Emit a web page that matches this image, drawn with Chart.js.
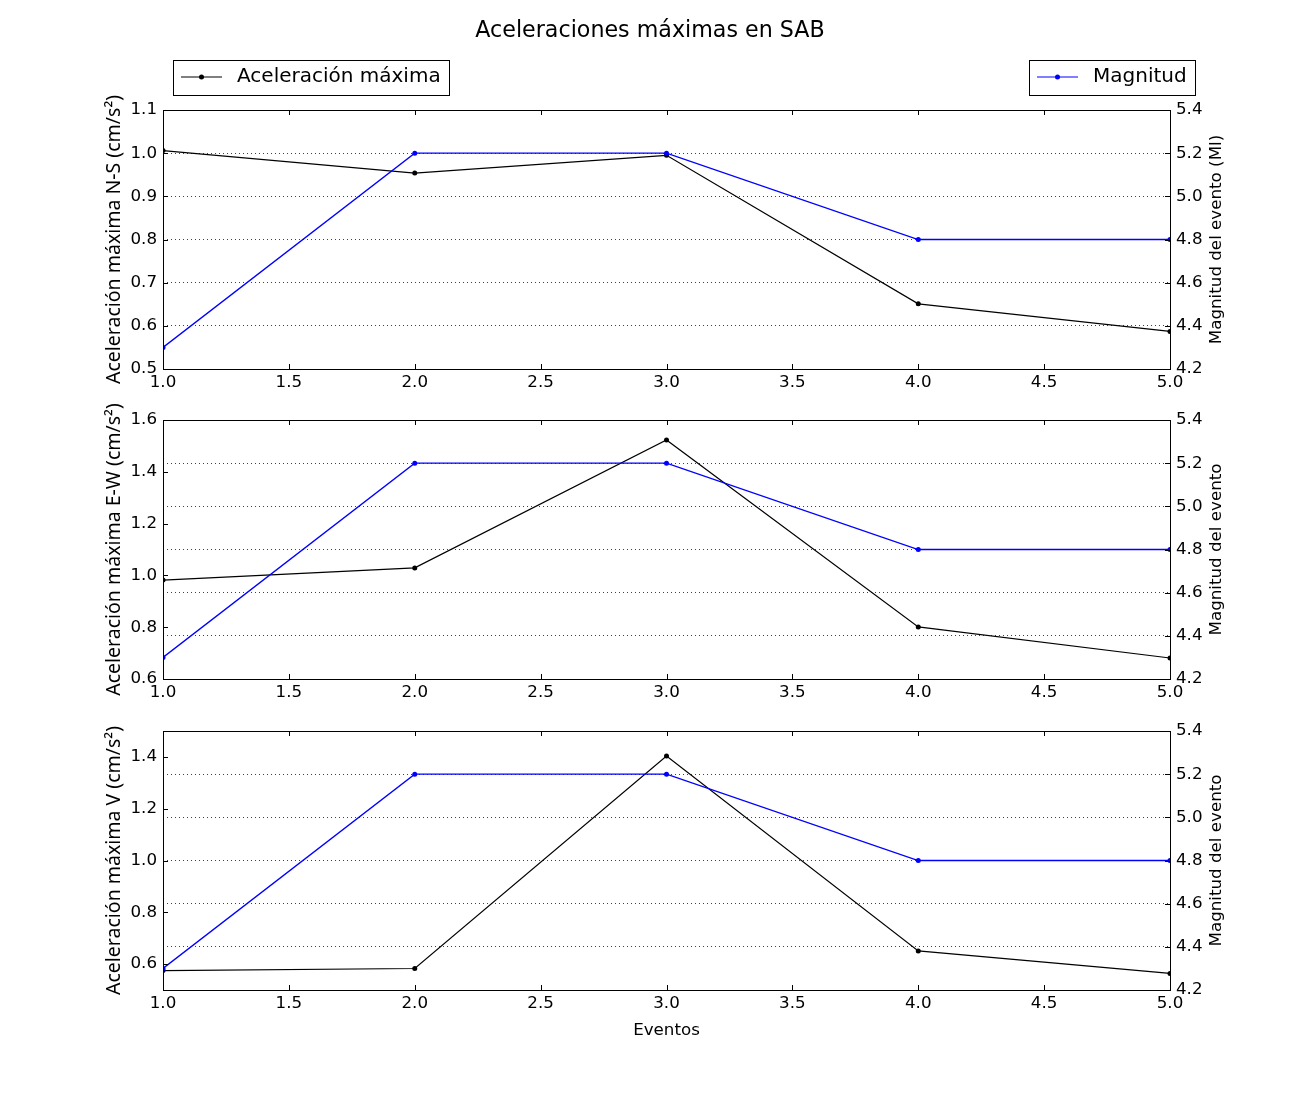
<!DOCTYPE html>
<html>
<head>
<meta charset="utf-8">
<script src="https://cdn.jsdelivr.net/npm/chart.js@4.4.1/dist/chart.umd.min.js"></script>
<style>
  body { margin: 0; background: #fff; }
  canvas { position: absolute; left: 0; }
</style>
</head>
<body>
<canvas id="c1" width="1300" height="400" style="top:0px"></canvas>
<canvas id="c2" width="1300" height="310" style="top:400px"></canvas>
<canvas id="c3" width="1300" height="390" style="top:710px"></canvas>
<script>
// Data
const eventos = [1, 2, 3, 4, 5];
const magnitud = [4.3, 5.2, 5.2, 4.8, 4.8];
const accNS = [1.006, 0.954, 0.995, 0.651, 0.587];
const accEW = [0.982, 1.029, 1.523, 0.801, 0.681];
const accV = [0.575, 0.583, 1.403, 0.651, 0.564];

// Tick labels
const xTicks = [1.0, 1.5, 2.0, 2.5, 3.0, 3.5, 4.0, 4.5, 5.0];
const magTicks = [4.2, 4.4, 4.6, 4.8, 5.0, 5.2, 5.4];
const nsTicks = [0.5, 0.6, 0.7, 0.8, 0.9, 1.0, 1.1];
const ewTicks = [0.6, 0.8, 1.0, 1.2, 1.4, 1.6];
const vTicks = [0.6, 0.8, 1.0, 1.2, 1.4];

const FONT = 'DejaVu Sans';
const tickFont = { family: FONT, size: 16.7 };
const accTitleFont = { family: 'Noto Sans', size: 19.5 };

// frame around the plot, inward ticks, and the right-hand title (reads bottom to top)
const frameTicks = {
    id: 'frameTicks',
    afterDatasetsDraw(chart) {
        const { ctx, chartArea: a, scales } = chart;
        ctx.save();
        ctx.strokeStyle = '#000';
        ctx.lineWidth = 1;
        ctx.beginPath();
        scales.x.ticks.forEach(t => {
            const px = Math.round(scales.x.getPixelForValue(t.value)) + 0.5;
            ctx.moveTo(px, a.bottom); ctx.lineTo(px, a.bottom - 5);
            ctx.moveTo(px, a.top); ctx.lineTo(px, a.top + 5);
        });
        scales.y.ticks.forEach(t => {
            const py = Math.round(scales.y.getPixelForValue(t.value)) + 0.5;
            ctx.moveTo(a.left, py); ctx.lineTo(a.left + 5, py);
        });
        scales.y1.ticks.forEach(t => {
            const py = Math.round(scales.y1.getPixelForValue(t.value)) + 0.5;
            ctx.moveTo(a.right, py); ctx.lineTo(a.right - 5, py);
        });
        ctx.stroke();
        ctx.strokeRect(Math.round(a.left) + 0.5, Math.round(a.top) + 0.5, Math.round(a.width), Math.round(a.height));

        const rt = chart.options.scales.y1.title.text;
        ctx.translate(1217, (a.top + a.bottom) / 2);
        ctx.rotate(-Math.PI / 2);
        ctx.fillStyle = '#000';
        ctx.font = tickFont.size + 'px "' + FONT + '"';
        ctx.textAlign = 'center';
        ctx.textBaseline = 'middle';
        ctx.fillText(rt, 0, 0);
        ctx.restore();
    }
};

// figure title and the two legend boxes, drawn on the first panel
const figHeader = {
    id: 'figHeader',
    afterDraw(chart) {
        const { ctx } = chart;
        ctx.save();
        ctx.fillStyle = '#000';
        ctx.font = '22.2px "' + FONT + '"';
        ctx.textAlign = 'center';
        ctx.textBaseline = 'middle';
        ctx.fillText('Aceleraciones máximas en SAB', 650, 31);

        ctx.font = '20px "' + FONT + '"';
        const boxes = [
            { ds: chart.data.datasets[1], x: 173, w: 276 },
            { ds: chart.data.datasets[0], x: 1029, w: 166 }
        ];
        boxes.forEach(b => {
            ctx.lineWidth = 1;
            ctx.strokeStyle = '#000';
            ctx.strokeRect(b.x + 0.5, 60.5, b.w, 35);
            ctx.strokeStyle = b.ds.borderColor;
            ctx.lineWidth = 1.2;
            ctx.beginPath();
            ctx.moveTo(b.x + 8, 77);
            ctx.lineTo(b.x + 49, 77);
            ctx.stroke();
            ctx.fillStyle = b.ds.borderColor;
            ctx.beginPath();
            ctx.arc(b.x + 28.5, 77, 2.5, 0, Math.PI * 2);
            ctx.fill();
            ctx.fillStyle = '#000';
            ctx.textAlign = 'left';
            ctx.fillText(b.ds.label, b.x + 64, 77);
        });
        ctx.restore();
    }
};

function makePanel(id, acc, yMin, yMax, yTicks, yTitle, magTitle, opts) {
    const ctx = document.getElementById(id).getContext('2d');
    return new Chart(ctx, {
        type: 'line',
        data: {
            datasets: [{
                label: 'Magnitud',
                data: eventos.map((e, i) => ({ x: e, y: magnitud[i] })),
                yAxisID: 'y1',
                borderColor: '#0000ff',
                backgroundColor: '#0000ff',
                borderWidth: 1.3,
                pointRadius: 2.5,
                pointBorderWidth: 0,
                order: 0
            }, {
                label: 'Aceleración máxima',
                data: eventos.map((e, i) => ({ x: e, y: acc[i] })),
                yAxisID: 'y',
                borderColor: '#000000',
                backgroundColor: '#000000',
                borderWidth: 1.2,
                pointRadius: 2.5,
                pointBorderWidth: 0,
                order: 1
            }]
        },
        options: {
            responsive: false,
            animation: false,
            layout: { padding: { top: opts.top, bottom: opts.bottom, left: 0, right: 0 } },
            plugins: {
                legend: { display: false },
                tooltip: { enabled: false }
            },
            scales: {
                x: {
                    type: 'linear',
                    min: 1, max: 5,
                    afterBuildTicks: s => { s.ticks = xTicks.map(v => ({ value: v })); },
                    afterFit: s => { s.height = opts.xHeight; },
                    grid: { display: false, drawTicks: false },
                    border: { display: false },
                    ticks: {
                        color: '#000', font: tickFont, padding: 4, maxRotation: 0, autoSkip: false,
                        callback: v => v.toFixed(1)
                    },
                    title: {
                        display: !!opts.xTitle, text: opts.xTitle || '', color: '#000',
                        font: tickFont, padding: { top: 0, bottom: opts.xTitlePad || 0 }
                    }
                },
                y: {
                    position: 'left',
                    min: yMin, max: yMax,
                    afterBuildTicks: s => { s.ticks = yTicks.map(v => ({ value: v })); },
                    afterFit: s => { s.width = 163; },
                    grid: { display: false, drawTicks: false },
                    border: { display: false },
                    ticks: { color: '#000', font: tickFont, padding: 6, callback: v => v.toFixed(1) },
                    title: {
                        display: true, text: yTitle, color: '#000', font: accTitleFont,
                        padding: { top: 103, bottom: 0 }
                    }
                },
                y1: {
                    position: 'right',
                    min: 4.2, max: 5.4,
                    afterBuildTicks: s => { s.ticks = magTicks.map(v => ({ value: v })); },
                    afterFit: s => { s.width = 130; },
                    grid: {
                        drawOnChartArea: true, drawTicks: false,
                        color: 'rgba(0,0,0,0.75)', lineWidth: 1
                    },
                    border: { display: false, dash: [1, 3] },
                    ticks: { color: '#000', font: tickFont, padding: 6, callback: v => v.toFixed(1) },
                    // drawn by frameTicks so it can read bottom to top like the reference
                    title: { display: false, text: magTitle }
                }
            }
        },
        plugins: opts.header ? [frameTicks, figHeader] : [frameTicks]
    });
}

makePanel('c1', accNS, 0.5, 1.1, nsTicks,
    'Aceleración máxima N-S (cm/s²)', 'Magnitud del evento (Ml)',
    { top: 110, bottom: 0, xHeight: 31, header: true });
makePanel('c2', accEW, 0.6, 1.6, ewTicks,
    'Aceleración máxima E-W (cm/s²)', 'Magnitud del evento',
    { top: 20, bottom: 0, xHeight: 31 });
makePanel('c3', accV, 0.5, 1.5, vTicks,
    'Aceleración máxima V (cm/s²)', 'Magnitud del evento',
    { top: 21, bottom: 50, xHeight: 60, xTitle: 'Eventos', xTitlePad: 9 });
</script>
</body>
</html>
